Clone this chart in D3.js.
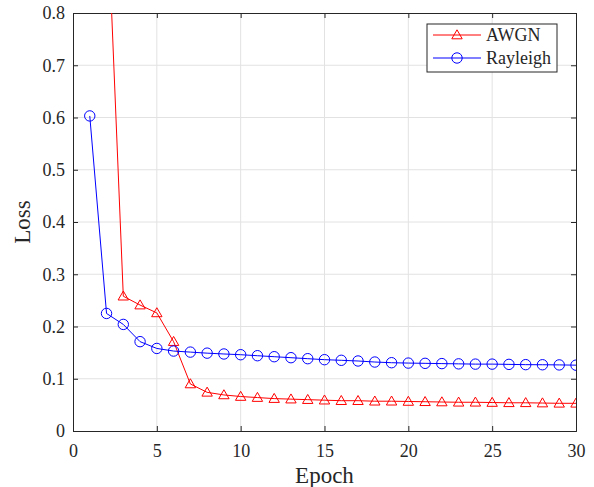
<!DOCTYPE html>
<html>
<head>
<meta charset="utf-8">
<script src="https://cdn.jsdelivr.net/npm/d3@7"></script>
<style>
  body { margin: 0; background: #fff; }
</style>
</head>
<body>
<div id="chart"></div>
<script>
// epochs and losses
const epochs = d3.range(1, 31)
const awgn = [1.5, 1.04, 0.258, 0.241, 0.226, 0.171, 0.090, 0.074, 0.069, 0.066,
              0.064, 0.062, 0.061, 0.060, 0.059, 0.058, 0.058, 0.057, 0.057, 0.0565,
              0.056, 0.0555, 0.055, 0.055, 0.0545, 0.054, 0.054, 0.0535, 0.053, 0.053]
const rayleigh = [0.603, 0.225, 0.204, 0.171, 0.158, 0.153, 0.151, 0.149, 0.1474, 0.146,
                  0.1441, 0.1422, 0.1403, 0.1384, 0.1365, 0.1353, 0.134, 0.132, 0.1307, 0.130,
                  0.1295, 0.129, 0.1285, 0.128, 0.128, 0.1275, 0.127, 0.1268, 0.1265, 0.126]
const xTicks = [0, 5, 10, 15, 20, 25, 30]
const yTicks = [0, 0.1, 0.2, 0.3, 0.4, 0.5, 0.6, 0.7, 0.8]

const width = 594, height = 487
const margin = { top: 13, right: 18, bottom: 56, left: 73 }
const w = width - margin.left - margin.right,
      h = height - margin.top - margin.bottom
const axisColor = '#262626'
const serif = "'Liberation Serif', 'Times New Roman', serif"

const svg = d3.select('#chart').append('svg')
    .attr('width', width)
    .attr('height', height)

const g = svg.append('g')
    .attr('transform', 'translate(' + margin.left + ',' + margin.top + ')')

const x = d3.scaleLinear().domain([0, 30]).range([0, w])
const y = d3.scaleLinear().domain([0, 0.8]).range([h, 0])

// grid
g.append('g').selectAll('line').data(xTicks.slice(1, -1)).join('line')
    .attr('x1', d => x(d)).attr('x2', d => x(d))
    .attr('y1', 0).attr('y2', h)
    .attr('stroke', '#e2e2e2').attr('stroke-width', 1)
g.append('g').selectAll('line').data(yTicks.slice(1, -1)).join('line')
    .attr('y1', d => y(d)).attr('y2', d => y(d))
    .attr('x1', 0).attr('x2', w)
    .attr('stroke', '#e2e2e2').attr('stroke-width', 1)

// axes, ticks pointing inward
const fmt = d3.format('')
const xAxis = g.append('g')
    .attr('transform', 'translate(0,' + h + ')')
    .call(d3.axisBottom(x).tickValues(xTicks).tickSize(-5).tickPadding(13).tickFormat(fmt))
const xTop = g.append('g')
    .call(d3.axisTop(x).tickValues(xTicks).tickSize(-5).tickFormat(''))
const yAxis = g.append('g')
    .call(d3.axisLeft(y).tickValues(yTicks).tickSize(-5).tickPadding(8).tickFormat(fmt))
const yRight = g.append('g')
    .attr('transform', 'translate(' + w + ',0)')
    .call(d3.axisRight(y).tickValues(yTicks).tickSize(-5).tickFormat(''))

for (const ax of [xAxis, xTop, yAxis, yRight]) {
    ax.attr('font-family', serif).attr('font-size', 18)
    ax.select('.domain').attr('stroke', axisColor)
    ax.selectAll('.tick line').attr('stroke', axisColor)
    ax.selectAll('.tick text').attr('fill', axisColor)
}

// clip for lines going off the top
svg.append('defs').append('clipPath').attr('id', 'clip')
    .append('rect').attr('width', w).attr('height', h)

const plot = g.append('g').attr('clip-path', 'url(#clip)')

const line = d3.line()
    .x((d, i) => x(epochs[i]))
    .y(d => y(d))

const triangle = 'M0,-5.2L5.2,3.8L-5.2,3.8Z'

function drawSeries(data, color, marker) {
    plot.append('path')
        .datum(data)
        .attr('fill', 'none')
        .attr('stroke', color)
        .attr('stroke-width', 1)
        .attr('d', line)
    const pts = plot.append('g').selectAll('g')
        .data(data)
        .join('g')
        .attr('transform', (d, i) => 'translate(' + x(epochs[i]) + ',' + y(d) + ')')
    if (marker === 'circle') {
        pts.append('circle').attr('r', 5.2)
            .attr('fill', 'none').attr('stroke', color).attr('stroke-width', 1)
    } else {
        pts.append('path').attr('d', triangle)
            .attr('fill', 'none').attr('stroke', color).attr('stroke-width', 1)
    }
}

drawSeries(awgn, '#ff0000', 'triangle')
drawSeries(rayleigh, '#0000ff', 'circle')

// axis labels
svg.append('text')
    .attr('x', margin.left + w / 2)
    .attr('y', 483)
    .attr('text-anchor', 'middle')
    .attr('font-family', serif)
    .attr('font-size', 23)
    .attr('fill', axisColor)
    .text('Epoch')

svg.append('text')
    .attr('transform', 'translate(30,' + (margin.top + h / 2) + ') rotate(-90)')
    .attr('text-anchor', 'middle')
    .attr('font-family', serif)
    .attr('font-size', 23)
    .attr('fill', axisColor)
    .text('Loss')

// legend
const legend = svg.append('g').attr('transform', 'translate(427,24)')
legend.append('rect')
    .attr('width', 130).attr('height', 48)
    .attr('fill', '#fff').attr('stroke', axisColor).attr('stroke-width', 1)

const items = [
    { name: 'AWGN', color: '#ff0000', marker: 'triangle' },
    { name: 'Rayleigh', color: '#0000ff', marker: 'circle' }
]
items.forEach((it, i) => {
    const row = legend.append('g').attr('transform', 'translate(0,' + (11 + i * 23) + ')')
    row.append('line')
        .attr('x1', 6).attr('x2', 54)
        .attr('stroke', it.color).attr('stroke-width', 1)
    if (it.marker === 'circle') {
        row.append('circle').attr('cx', 30).attr('r', 5.2)
            .attr('fill', 'none').attr('stroke', it.color)
    } else {
        row.append('path').attr('d', triangle).attr('transform', 'translate(30,0)')
            .attr('fill', 'none').attr('stroke', it.color)
    }
    row.append('text')
        .attr('x', 59).attr('y', 6)
        .attr('font-family', serif)
        .attr('font-size', 18)
        .attr('fill', axisColor)
        .text(it.name)
})
</script>
</body>
</html>
